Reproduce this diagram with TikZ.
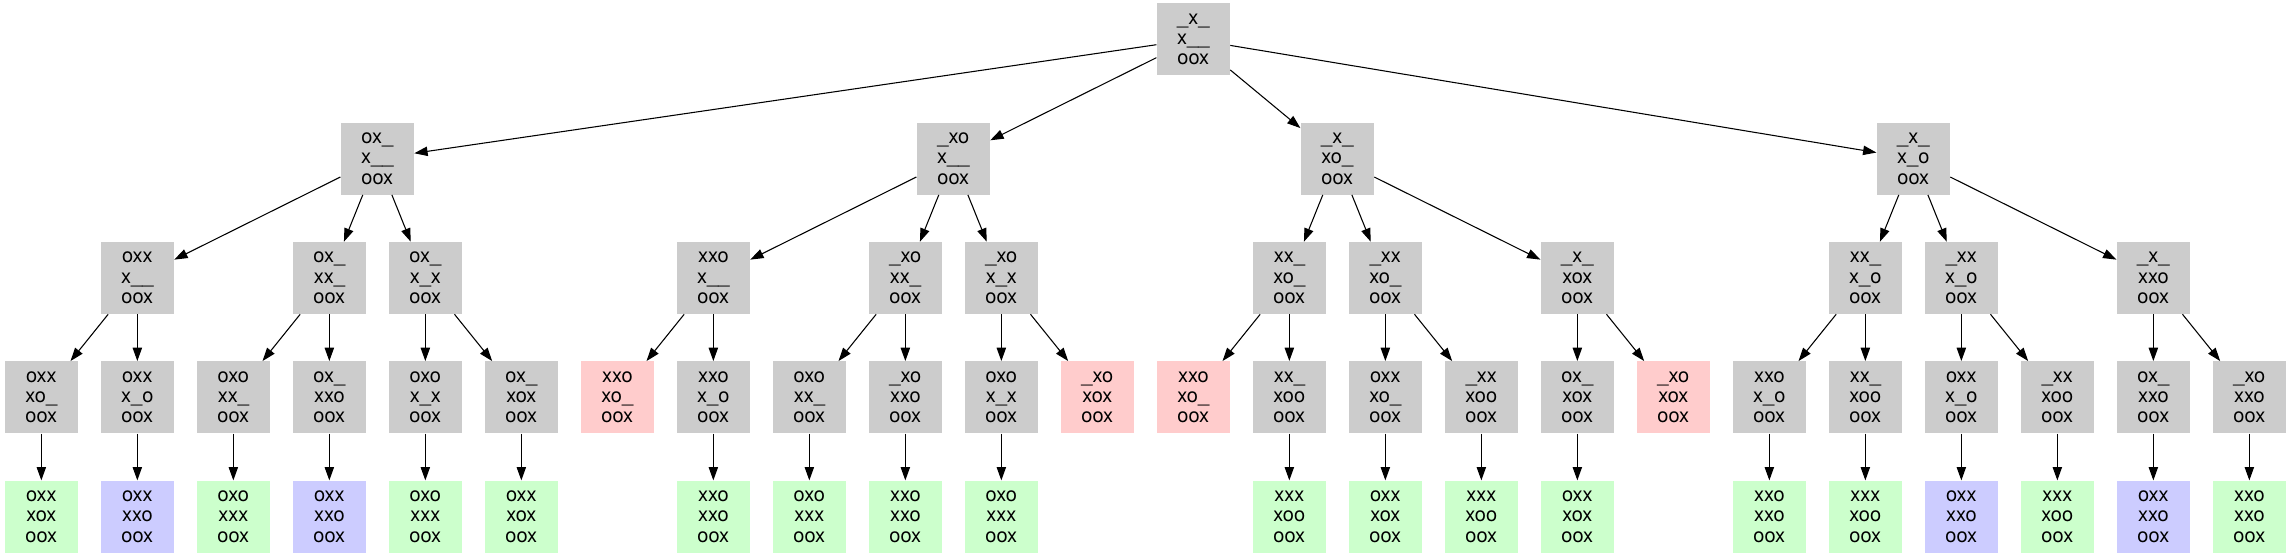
\documentclass[tikz,border=0pt]{standalone}
\usepackage{fontspec}
\setmainfont{TeX Gyre Heros}
\usepackage{xcolor}
\usetikzlibrary{arrows.meta, positioning}
\definecolor{gris}{HTML}{CCCCCC}
\definecolor{vert}{HTML}{CCFFCC}
\definecolor{bleu}{HTML}{CCCCFF}
\definecolor{rouge}{HTML}{FFCCCC}
\tikzset{
  plateau/.style={rectangle, fill=gris, minimum width=55pt, minimum height=54pt,
    inner sep=0pt, align=center, font=\fontsize{15pt}{15.2pt}\selectfont},
  gagnex/.style={plateau, fill=vert},
  gagneo/.style={plateau, fill=rouge},
  nulle/.style={plateau, fill=bleu},
}
\begin{document}
\begin{tikzpicture}[>={Triangle[length=10pt,width=7pt]}, node distance=89.5pt and 72pt, on grid]
    \useasboundingbox (0,0) rectangle (1718.25pt,417pt);

    % Avant-derniers coups
    \node[plateau] (n0) at (31pt,119pt) {oxx\\xo\_\\oox};
    \node[plateau, right=of n0] (n1) {oxx\\x\_o\\oox};
    \node[plateau, right=of n1] (n2) {oxo\\xx\_\\oox};
    \node[plateau, right=of n2] (n3) {ox\_\\xxo\\oox};
    \node[plateau, right=of n3] (n4) {oxo\\x\_x\\oox};
    \node[plateau, right=of n4] (n5) {ox\_\\xox\\oox};
    \node[gagneo, right=of n5] (n6) {xxo\\xo\_\\oox};
    \node[plateau, right=of n6] (n7) {xxo\\x\_o\\oox};
    \node[plateau, right=of n7] (n8) {oxo\\xx\_\\oox};
    \node[plateau, right=of n8] (n9) {\_xo\\xxo\\oox};
    \node[plateau, right=of n9] (n10) {oxo\\x\_x\\oox};
    \node[gagneo, right=of n10] (n11) {\_xo\\xox\\oox};
    \node[gagneo, right=of n11] (n12) {xxo\\xo\_\\oox};
    \node[plateau, right=of n12] (n13) {xx\_\\xoo\\oox};
    \node[plateau, right=of n13] (n14) {oxx\\xo\_\\oox};
    \node[plateau, right=of n14] (n15) {\_xx\\xoo\\oox};
    \node[plateau, right=of n15] (n16) {ox\_\\xox\\oox};
    \node[gagneo, right=of n16] (n17) {\_xo\\xox\\oox};
    \node[plateau, right=of n17] (n18) {xxo\\x\_o\\oox};
    \node[plateau, right=of n18] (n19) {xx\_\\xoo\\oox};
    \node[plateau, right=of n19] (n20) {oxx\\x\_o\\oox};
    \node[plateau, right=of n20] (n21) {\_xx\\xoo\\oox};
    \node[plateau, right=of n21] (n22) {ox\_\\xxo\\oox};
    \node[plateau, right=of n22] (n23) {\_xo\\xxo\\oox};

    % Fins de partie
    \node[gagnex, below=of n0] (f0) {oxx\\xox\\oox};
    \node[nulle, below=of n1] (f1) {oxx\\xxo\\oox};
    \node[gagnex, below=of n2] (f2) {oxo\\xxx\\oox};
    \node[nulle, below=of n3] (f3) {oxx\\xxo\\oox};
    \node[gagnex, below=of n4] (f4) {oxo\\xxx\\oox};
    \node[gagnex, below=of n5] (f5) {oxx\\xox\\oox};
    \node[gagnex, below=of n7] (f7) {xxo\\xxo\\oox};
    \node[gagnex, below=of n8] (f8) {oxo\\xxx\\oox};
    \node[gagnex, below=of n9] (f9) {xxo\\xxo\\oox};
    \node[gagnex, below=of n10] (f10) {oxo\\xxx\\oox};
    \node[gagnex, below=of n13] (f13) {xxx\\xoo\\oox};
    \node[gagnex, below=of n14] (f14) {oxx\\xox\\oox};
    \node[gagnex, below=of n15] (f15) {xxx\\xoo\\oox};
    \node[gagnex, below=of n16] (f16) {oxx\\xox\\oox};
    \node[gagnex, below=of n18] (f18) {xxo\\xxo\\oox};
    \node[gagnex, below=of n19] (f19) {xxx\\xoo\\oox};
    \node[nulle, below=of n20] (f20) {oxx\\xxo\\oox};
    \node[gagnex, below=of n21] (f21) {xxx\\xoo\\oox};
    \node[nulle, below=of n22] (f22) {oxx\\xxo\\oox};
    \node[gagnex, below=of n23] (f23) {xxo\\xxo\\oox};

    % Deuxieme niveau
    \node[plateau, above=of n1] (a1) {oxx\\x\_\_\\oox};
    \node[plateau, above=of n3] (a2) {ox\_\\xx\_\\oox};
    \node[plateau, above=of n4] (a3) {ox\_\\x\_x\\oox};
    \node[plateau, above=of n7] (b1) {xxo\\x\_\_\\oox};
    \node[plateau, above=of n9] (b2) {\_xo\\xx\_\\oox};
    \node[plateau, above=of n10] (b3) {\_xo\\x\_x\\oox};
    \node[plateau, above=of n13] (c1) {xx\_\\xo\_\\oox};
    \node[plateau, above=of n14] (c2) {\_xx\\xo\_\\oox};
    \node[plateau, above=of n16] (c3) {\_x\_\\xox\\oox};
    \node[plateau, above=of n19] (d1) {xx\_\\x\_o\\oox};
    \node[plateau, above=of n20] (d2) {\_xx\\x\_o\\oox};
    \node[plateau, above=of n22] (d3) {\_x\_\\xxo\\oox};

    % Premier niveau et racine
    \node[plateau, above right=89.5pt and 36pt of a2] (a) {ox\_\\x\_\_\\oox};
    \node[plateau, above right=89.5pt and 36pt of b2] (b) {\_xo\\x\_\_\\oox};
    \node[plateau, above right=89.5pt and 36pt of c1] (c) {\_x\_\\xo\_\\oox};
    \node[plateau, above right=89.5pt and 36pt of d1] (d) {\_x\_\\x\_o\\oox};
    \node[plateau, above left=89.5pt and 108pt of c] (r) {\_x\_\\x\_\_\\oox};

    % Coups
    \path[->, line width=0.8pt]
    (r) edge (a)
    (r) edge (b)
    (r) edge (c)
    (r) edge (d)
    (a) edge (a1)
    (a) edge (a2)
    (a) edge (a3)
    (b) edge (b1)
    (b) edge (b2)
    (b) edge (b3)
    (c) edge (c1)
    (c) edge (c2)
    (c) edge (c3)
    (d) edge (d1)
    (d) edge (d2)
    (d) edge (d3)
    (a1) edge (n0)
    (a1) edge (n1)
    (a2) edge (n2)
    (a2) edge (n3)
    (a3) edge (n4)
    (a3) edge (n5)
    (b1) edge (n6)
    (b1) edge (n7)
    (b2) edge (n8)
    (b2) edge (n9)
    (b3) edge (n10)
    (b3) edge (n11)
    (c1) edge (n12)
    (c1) edge (n13)
    (c2) edge (n14)
    (c2) edge (n15)
    (c3) edge (n16)
    (c3) edge (n17)
    (d1) edge (n18)
    (d1) edge (n19)
    (d2) edge (n20)
    (d2) edge (n21)
    (d3) edge (n22)
    (d3) edge (n23)
    (n0) edge (f0)
    (n1) edge (f1)
    (n2) edge (f2)
    (n3) edge (f3)
    (n4) edge (f4)
    (n5) edge (f5)
    (n7) edge (f7)
    (n8) edge (f8)
    (n9) edge (f9)
    (n10) edge (f10)
    (n13) edge (f13)
    (n14) edge (f14)
    (n15) edge (f15)
    (n16) edge (f16)
    (n18) edge (f18)
    (n19) edge (f19)
    (n20) edge (f20)
    (n21) edge (f21)
    (n22) edge (f22)
    (n23) edge (f23);

\end{tikzpicture}
\end{document}
